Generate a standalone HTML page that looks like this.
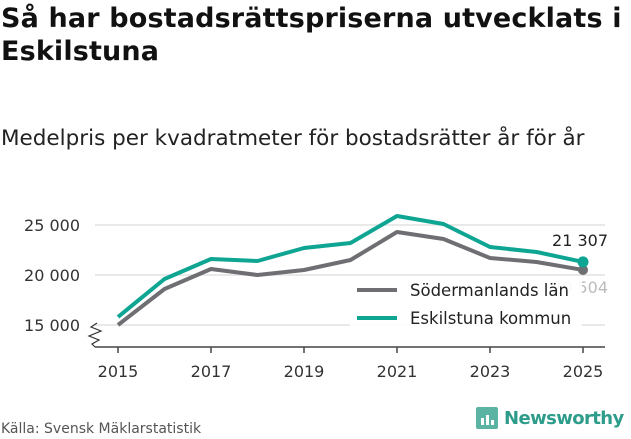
<!DOCTYPE html>
<html><head><meta charset="utf-8"><style>
body{margin:0;width:631px;height:439px;background:#fff;font-family:"DejaVu Sans","Liberation Sans",sans-serif;overflow:hidden;position:relative;color:#111}
.t{position:absolute;left:1px;top:2px;font-size:27px;font-weight:bold;line-height:33px;letter-spacing:0.15px}
.s{position:absolute;left:1px;top:126px;font-size:21.5px;color:#222;letter-spacing:0px}
.src{position:absolute;left:1px;top:421px;font-size:14px;color:#555}
.logo{position:absolute;left:476px;top:407px;display:flex;align-items:center;gap:6px;font-size:18px;font-weight:bold;color:#2e9c8a;letter-spacing:-0.6px}
.box{width:22px;height:22px;background:#5ab3a3;border-radius:2px;position:relative}
svg text{font-family:"DejaVu Sans","Liberation Sans",sans-serif}
</style></head><body>
<div class="t">Så har bostadsrättspriserna utvecklats i<br>Eskilstuna</div>
<div class="s">Medelpris per kvadratmeter för bostadsrätter år för år</div>
<svg id="c" width="631" height="439" style="position:absolute;left:0;top:0"></svg>
<div class="src">Källa: Svensk Mäklarstatistik</div>
<div class="logo"><div class="box"><svg width="22" height="22"><rect x="5" y="11" width="3" height="7" fill="#fff"/><rect x="10" y="8" width="3" height="10" fill="#fff"/><rect x="15" y="13" width="3" height="5" fill="#fff"/></svg></div>Newsworthy</div>
<script>
const years=[2015,2016,2017,2018,2019,2020,2021,2022,2023,2024,2025];
const sodermanland=[15000,18600,20600,20000,20500,21500,24300,23600,21700,21300,20504];
const eskilstuna=[15800,19600,21600,21400,22700,23200,25900,25100,22800,22300,21307];
const yTicks=[15000,20000,25000];
const yTickLabels=["15 000","20 000","25 000"];
const xTicks=[2015,2017,2019,2021,2023,2025];
const NS="http://www.w3.org/2000/svg";
const svg=document.getElementById('c');
const x=v=>118+(v-2015)*46.5;
const y=v=>325-(v-15000)*0.01;
function mk(t,a){const e=document.createElementNS(NS,t);for(const k in a)e.setAttribute(k,a[k]);svg.appendChild(e);return e;}
yTicks.forEach((v,i)=>{
 const g=mk('line',{x1:95,x2:605,y1:y(v),y2:y(v),stroke:'#e2e2e2','stroke-width':1.5});
 
 
 const t=mk('text',{x:80,y:y(v)+6,'text-anchor':'end','font-size':16,fill:'#333'});
 t.textContent=yTickLabels[i];
 
 
});
const ax=mk('line',{x1:95,x2:605,y1:347,y2:347,stroke:'#444','stroke-width':1.5});


const br=mk('path',{d:'M97 323 L91 327 L101 331 L89 336 L99 340 L92 344 L95 347',fill:'none',stroke:'#333','stroke-width':1.2});


xTicks.forEach(v=>{
 const l=mk('line',{x1:x(v),x2:x(v),y1:347,y2:353,stroke:'#444','stroke-width':1.5});
 
 
 const t=mk('text',{x:x(v),y:377,'text-anchor':'middle','font-size':16,fill:'#333'});
 t.textContent=v;
 
 
});
function line(vals,col,name){
 const p=mk('polyline',{points:vals.map((v,i)=>x(years[i])+','+y(v)).join(' '),fill:'none',stroke:col,'stroke-width':4,'stroke-linejoin':'round'});
 
 
}
line(sodermanland,'#6f6e72','sodermanland-line');
line(eskilstuna,'#0fa593','eskilstuna-line');
const n=years.length-1;
const d1=mk('circle',{cx:x(years[n]),cy:y(sodermanland[n]),r:5,fill:'#6f6e72'});


const d2=mk('circle',{cx:x(years[n]),cy:y(eskilstuna[n]),r:5.5,fill:'#0fa593'});


const fmt=v=>String(v).replace(/\B(?=(\d{3})+$)/g,' ');
const l1=mk('text',{x:x(years[n])+25,y:y(eskilstuna[n])-16,'text-anchor':'end','font-size':16,fill:'#222'});
l1.textContent=fmt(eskilstuna[n]);


const l2=mk('text',{x:x(years[n])+25,y:y(sodermanland[n])+23,'text-anchor':'end','font-size':16,fill:'#bbb'});
l2.textContent=fmt(sodermanland[n]);


const lb=mk('rect',{x:350,y:277,width:232,height:57,fill:'#fff','fill-opacity':0.9});


[['Södermanlands län','#6f6e72',290],['Eskilstuna kommun','#0fa593',318]].forEach(([lab,c,yy])=>{
 const s=mk('line',{x1:357,x2:397,y1:yy,y2:yy,stroke:c,'stroke-width':4});
 
 
 const t=mk('text',{x:410,y:yy+6,'font-size':16.5,fill:'#222'});
 t.textContent=lab;
 
 
});
</script>
</body></html>
